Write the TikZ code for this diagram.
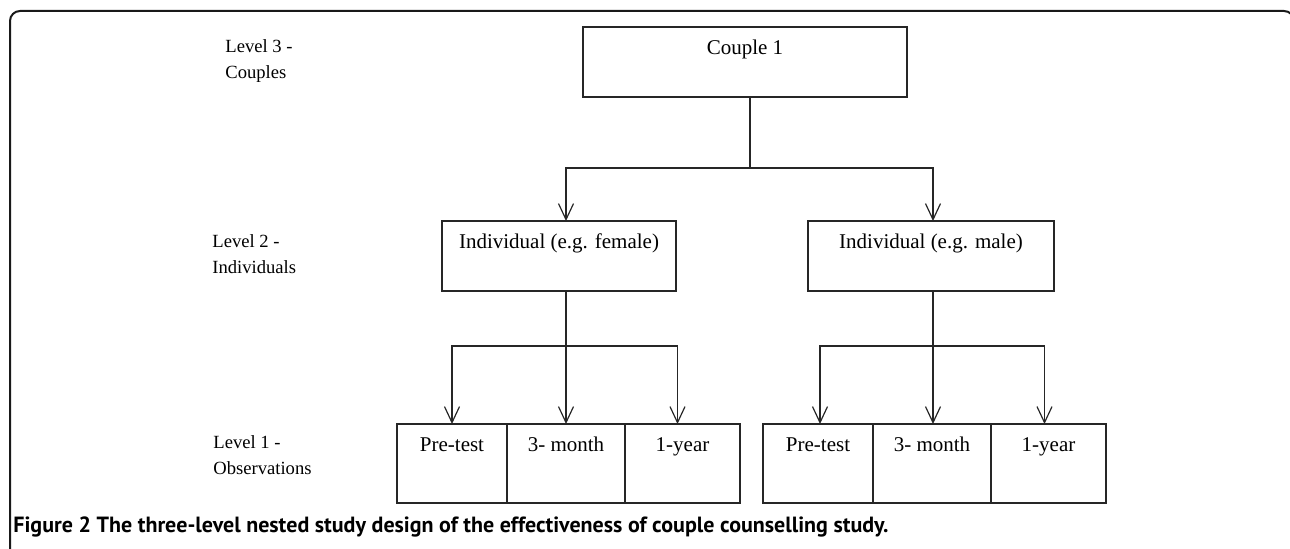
\documentclass[tikz,border=0pt]{standalone}
\usepackage{fontspec}
\setmainfont{Liberation Serif}
\newfontfamily\captionfont{PT Sans}
\usetikzlibrary{positioning, arrows.meta}

\tikzset{
	box/.style={draw=black!85, line width=0.6pt, inner sep=0pt, outer sep=0pt,
		text height=14pt, font=\fontsize{10.5}{12}\selectfont},
	tallbox/.style={box, text depth=21pt},
	obsbox/.style={box, text depth=25.5pt},
	levellabel/.style={inner sep=0pt, anchor=base west, align=left,
		font=\fontsize{9.3}{13}\selectfont},
	arr/.style={-{Straight Barb[length=8pt, width=7.5pt]}, draw=black!85, line width=0.6pt},
	link/.style={draw=black!85, line width=0.6pt}
}

\begin{document}
\begin{tikzpicture}[x=0.5pt, y=-0.5pt]
		
		\useasboundingbox (0,0) rectangle (1290,549);
		
		%cornice della figura
		\draw[line width=1pt, black!90, rounded corners=5pt] (10,560) -- (10,11) -- (1294,11) -- (1294,560);
		
		%etichette dei livelli (ancorate all'ultima riga)
		\node (level3) at (225,79) [levellabel] {Level 3 -\\Couples};
		\node (level2) at (212,274) [levellabel] {Level 2 -\\Individuals};
		\node (level1) at (213,475) [levellabel] {Level 1 -\\Observations};
		
		%nodi del diagramma
		\node (couple) at (745,27) [tallbox, anchor=north, minimum width=162pt] {Couple 1};
		
		\node (female) at (559,221) [tallbox, anchor=north, minimum width=117pt] {Individual (e.g. female)};
		
		\node (male) at (931,221) [tallbox, anchor=north, minimum width=123pt] {Individual (e.g. male)};
		
		\node (preF) at (397,424) [obsbox, anchor=north west, minimum width=55pt] {Pre-test};
		\node (monthF) [obsbox, right=0pt of preF, minimum width=59pt] {3- month};
		\node (yearF) [obsbox, right=0pt of monthF, minimum width=57.5pt] {1-year};
		
		\node (preM) at (763,424) [obsbox, anchor=north west, minimum width=55pt] {Pre-test};
		\node (monthM) [obsbox, right=0pt of preM, minimum width=59pt] {3- month};
		\node (yearM) [obsbox, right=0pt of monthM, minimum width=57.5pt] {1-year};
		
		%punti di diramazione
		\coordinate (splitCouple) at (750,168);
		\coordinate (splitFemale) at (566,346);
		\coordinate (splitMale) at (933,346);
		
		%collegamenti
		\draw[link] (couple.south -| splitCouple) -- (splitCouple);
		\draw[arr] (splitCouple) -| (female.north -| splitFemale);
		\draw[arr] (splitCouple) -| (male.north -| splitMale);
		
		\draw[link] (female.south -| splitFemale) -- (splitFemale);
		\draw[arr] (splitFemale) -| (preF.north);
		\draw[arr] (splitFemale) -- (monthF.north);
		\draw[arr] (splitFemale) -| ([xshift=-2.5pt]yearF.north);
		
		\draw[link] (male.south -| splitMale) -- (splitMale);
		\draw[arr] (splitMale) -| ([xshift=1pt]preM.north);
		\draw[arr] (splitMale) -- (monthM.north -| splitMale);
		\draw[arr] (splitMale) -| ([xshift=-2pt]yearM.north);
		
		%didascalia
		\node (caption) at (13,533) [inner sep=0pt, anchor=base west, font=\captionfont\bfseries\fontsize{11}{13}\selectfont]
		{Figure 2 The three-level nested study design of the effectiveness of couple counselling study.};
		
\end{tikzpicture}
\end{document}
